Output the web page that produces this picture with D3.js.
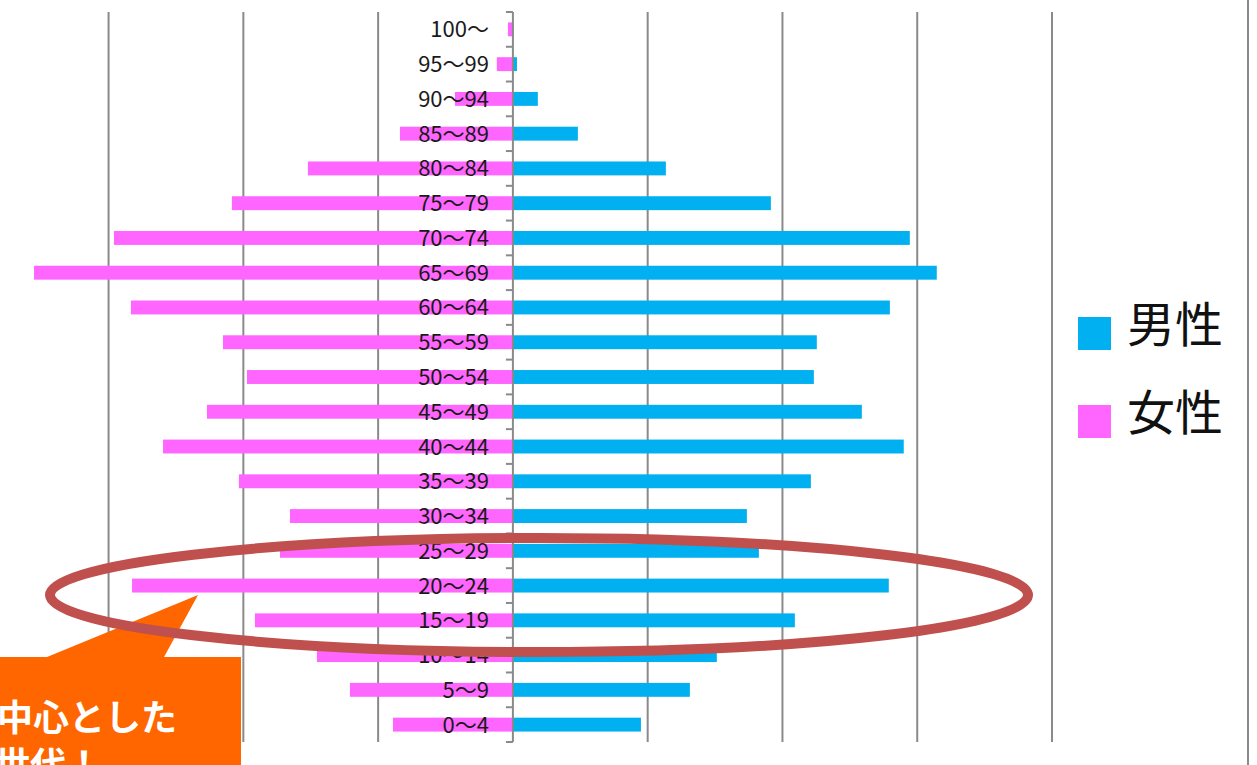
<!DOCTYPE html>
<html>
<head>
<meta charset="utf-8">
<script src="https://cdn.jsdelivr.net/npm/d3@7"></script>
<style>
  body { margin: 0; background: #fff; }
  svg { display: block; }
</style>
</head>
<body>
<div id="chart"></div>
<script>
// age groups, top to bottom
var ageGroups = ["100～", "95～99", "90～94", "85～89", "80～84", "75～79", "70～74",
  "65～69", "60～64", "55～59", "50～54", "45～49", "40～44", "35～39",
  "30～34", "25～29", "20～24", "15～19", "10～14", "5～9", "0～4"];

// 男性
var male = [5, 30, 185, 482, 1135, 1914, 2945, 3145, 2797, 2255, 2233, 2589, 2900, 2211,
  1736, 1825, 2789, 2092, 1513, 1313, 950];

// 女性
var female = [37, 119, 430, 838, 1521, 2085, 2960, 3553, 2834, 2151, 1973, 2270, 2596, 2033,
  1654, 1728, 2826, 1914, 1454, 1209, 890];

var gridTicks = [-4000, -3000, -2000, -1000, 1000, 2000, 3000, 4000];
var legendItems = ["男性", "女性"];
var calloutLines = ["中心とした", "世代！"];

var width = 1257, height = 765;
var blue = "#00B0F0", pink = "#FF66FF", gray = "#8a8a8a";

var svg = d3.select("#chart").append("svg")
  .attr("width", width).attr("height", height);

// scales
var x = d3.scaleLinear().domain([-4000, 4000]).range([-26.2, 1052]);
var y = d3.scaleBand().domain(ageGroups).range([12, 742])
  .paddingInner(0.6).paddingOuter(0.3);

// right border of chart area
svg.append("line")
  .attr("x1", 1248).attr("x2", 1248).attr("y1", 0).attr("y2", height)
  .attr("stroke", gray).attr("stroke-width", 2);

// gridlines
svg.append("g").selectAll("line").data(gridTicks).join("line")
  .attr("x1", d => x(d)).attr("x2", d => x(d))
  .attr("y1", 12).attr("y2", 742)
  .attr("stroke", gray).attr("stroke-width", 2);

// bars
svg.append("g").selectAll("rect").data(ageGroups).join("rect")
  .attr("x", (d, i) => x(-female[i]))
  .attr("width", (d, i) => x(0) - x(-female[i]))
  .attr("y", d => y(d)).attr("height", y.bandwidth())
  .attr("fill", pink);

svg.append("g").selectAll("rect").data(ageGroups).join("rect")
  .attr("x", x(0))
  .attr("width", (d, i) => x(male[i]) - x(0))
  .attr("y", d => y(d)).attr("height", y.bandwidth())
  .attr("fill", blue);

// category axis in the middle
var step = y.step();
var boundaries = d3.range(ageGroups.length + 1).map(i => 12 + i * step);
svg.append("line")
  .attr("x1", x(0)).attr("x2", x(0)).attr("y1", 12).attr("y2", 742)
  .attr("stroke", gray).attr("stroke-width", 2);
svg.append("g").selectAll("line").data(boundaries).join("line")
  .attr("x1", x(0) - 7).attr("x2", x(0))
  .attr("y1", d => d).attr("y2", d => d)
  .attr("stroke", gray).attr("stroke-width", 2);

// age labels
svg.append("g").selectAll("text").data(ageGroups).join("text")
  .attr("x", 489)
  .attr("y", d => y(d) + y.bandwidth() / 2 + 8)
  .attr("text-anchor", "end")
  .attr("font-family", "'Noto Sans CJK JP', 'Noto Sans', sans-serif")
  .attr("font-size", 22)
  .attr("fill", "#1a1a1a")
  .text(d => d);

// legend
var legend = svg.append("g").selectAll("g").data(legendItems).join("g")
  .attr("transform", (d, i) => "translate(1078," + (317 + i * 88) + ")");
legend.append("rect")
  .attr("width", 33).attr("height", 33)
  .attr("fill", (d, i) => i == 0 ? blue : pink);
legend.append("text")
  .attr("x", 49).attr("y", 25)
  .attr("font-family", "'Noto Sans CJK JP', sans-serif")
  .attr("font-size", 48)
  .attr("fill", "#111")
  .text(d => d);

// callout
svg.append("path")
  .attr("d", "M0,657 L47,657 L198,595 L164,657 L241,657 L241,765 L0,765 Z")
  .attr("fill", "#FF6600");
svg.append("g").selectAll("text").data(calloutLines).join("text")
  .attr("x", (d, i) => i == 0 ? 177 : -6)
  .attr("y", (d, i) => 731 + i * 47)
  .attr("text-anchor", (d, i) => i == 0 ? "end" : "start")
  .attr("font-family", "'Noto Sans CJK JP', sans-serif")
  .attr("font-weight", "bold")
  .attr("font-size", 36)
  .attr("fill", "#fff")
  .text(d => d);

// ellipse highlight
svg.append("ellipse")
  .attr("cx", 539).attr("cy", 595).attr("rx", 489).attr("ry", 57)
  .attr("fill", "none").attr("stroke", "#C0504D").attr("stroke-width", 10);
</script>
</body>
</html>
